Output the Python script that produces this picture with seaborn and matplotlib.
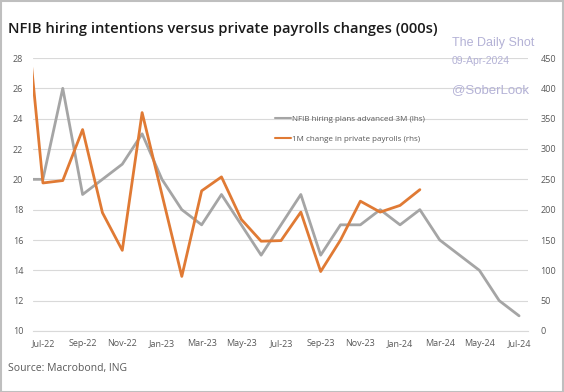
import matplotlib
matplotlib.use("Agg")
import matplotlib.pyplot as plt
import seaborn as sns
import pandas as pd

# monthly data, Jun-22 .. Jul-24 (Jun-22 is clipped by the axis edge)
months = ["Jun-22", "Jul-22", "Aug-22", "Sep-22", "Oct-22", "Nov-22", "Dec-22",
          "Jan-23", "Feb-23", "Mar-23", "Apr-23", "May-23", "Jun-23",
          "Jul-23", "Aug-23", "Sep-23", "Oct-23", "Nov-23", "Dec-23",
          "Jan-24", "Feb-24", "Mar-24", "Apr-24", "May-24", "Jun-24", "Jul-24"]
nfib = [20, 20, 26, 19, 20, 21, 23, 20, 18, 17, 19, 17, 15,
        17, 19, 15, 17, 17, 18, 17, 18, 16, 15, 14, 12, 11]
payrolls = [580, 244, 248, 332, 195, 133, 360, 225, 90, 231, 254, 184, 148,
            149, 196, 98, 150, 214, 196, 207, 233, None, None, None, None, None]
tick_labels = ["Jul-22", "Sep-22", "Nov-22", "Jan-23", "Mar-23", "May-23", "Jul-23",
               "Sep-23", "Nov-23", "Jan-24", "Mar-24", "May-24", "Jul-24"]

df = pd.DataFrame({"idx": range(-1, len(months) - 1), "month": months,
                   "nfib": nfib, "payrolls": payrolls})

sns.set_style("white")
plt.rcParams["font.family"] = ["Open Sans", "DejaVu Sans"]

GRAY = "#a5a5a5"
ORANGE = "#e07a34"
TXT = "#595959"

fig = plt.figure(figsize=(5.64, 3.92), dpi=100)
ax = fig.add_axes([33 / 564, 1 - 331 / 392, 495 / 564, 273 / 392])
ax2 = ax.twinx()

sns.lineplot(data=df, x="idx", y="nfib", ax=ax, color=GRAY, linewidth=2,
             label="NFIB hiring plans advanced 3M (lhs)", legend=False)
sns.lineplot(data=df.dropna(), x="idx", y="payrolls", ax=ax2, color=ORANGE, linewidth=2,
             label="1M change in private payrolls (rhs)", legend=False)

ax.set_xlim(-0.49, 24.45)
ax.set_ylim(10, 28)
ax2.set_ylim(0, 450)
ax.set_yticks(range(10, 29, 2))
ax2.set_yticks(range(0, 451, 50))
ax.set_xticks(range(0, 25, 2))
ax.set_xticklabels(tick_labels)
ax.set_xticks([i - 0.5 for i in range(0, 25, 2)], minor=True)
ax.set_xlabel("")
ax.set_ylabel("")
ax2.set_ylabel("")

ax.grid(axis="y", color="#d9d9d9", linewidth=0.8)
ax.set_axisbelow(True)
for a in (ax, ax2):
    for s in a.spines.values():
        s.set_visible(False)
ax.spines["bottom"].set_visible(True)
ax.spines["bottom"].set_color("#d9d9d9")
ax.tick_params(axis="x", which="major", length=0, labelsize=6.5, colors=TXT, pad=6)
ax.tick_params(axis="x", which="minor", length=3, color="#d9d9d9")
ax.tick_params(axis="y", length=0, labelsize=6.5, colors=TXT, pad=7)
ax2.tick_params(axis="y", length=0, labelsize=6.5, colors=TXT, pad=9)

h1, l1 = ax.get_legend_handles_labels()
h2, l2 = ax2.get_legend_handles_labels()
leg = ax2.legend(h1 + h2, l1 + l2, loc="upper left", bbox_to_anchor=(0.475, 0.817),
                 frameon=False, fontsize=5.8, labelcolor=TXT, handlelength=1.9,
                 handletextpad=0.15, labelspacing=1.55)
for ln in leg.get_lines():
    ln.set_linewidth(1.5)

fig.text(8 / 564, 1 - 29 / 392, "NFIB hiring intentions versus private payrolls changes (000s)",
         fontsize=10.6, fontweight="semibold", color="#1a1a1a", va="center")
fig.text(8 / 564, 1 - 368 / 392, "Source: Macrobond, ING", fontsize=7.5, color=TXT, va="center")

wm = "#b4b2d6"
fig.text(452 / 564, 1 - 43 / 392, "The Daily Shot", fontsize=9, color=wm, va="center",
         family="Liberation Sans")
fig.text(452 / 564, 1 - 61 / 392, "09-Apr-2024", fontsize=7.5, color=wm, va="center",
         family="Liberation Sans")
fig.text(452 / 564, 1 - 90 / 392, "@SoberLook", fontsize=9.5, color=wm, va="center",
         family="Liberation Sans")

fig.patches.append(plt.Rectangle((0.001, 0.001), 0.998, 0.997, transform=fig.transFigure,
                                 fill=False, edgecolor="#bfbfbf", linewidth=1.5))

fig.savefig("out.png", dpi=100)
